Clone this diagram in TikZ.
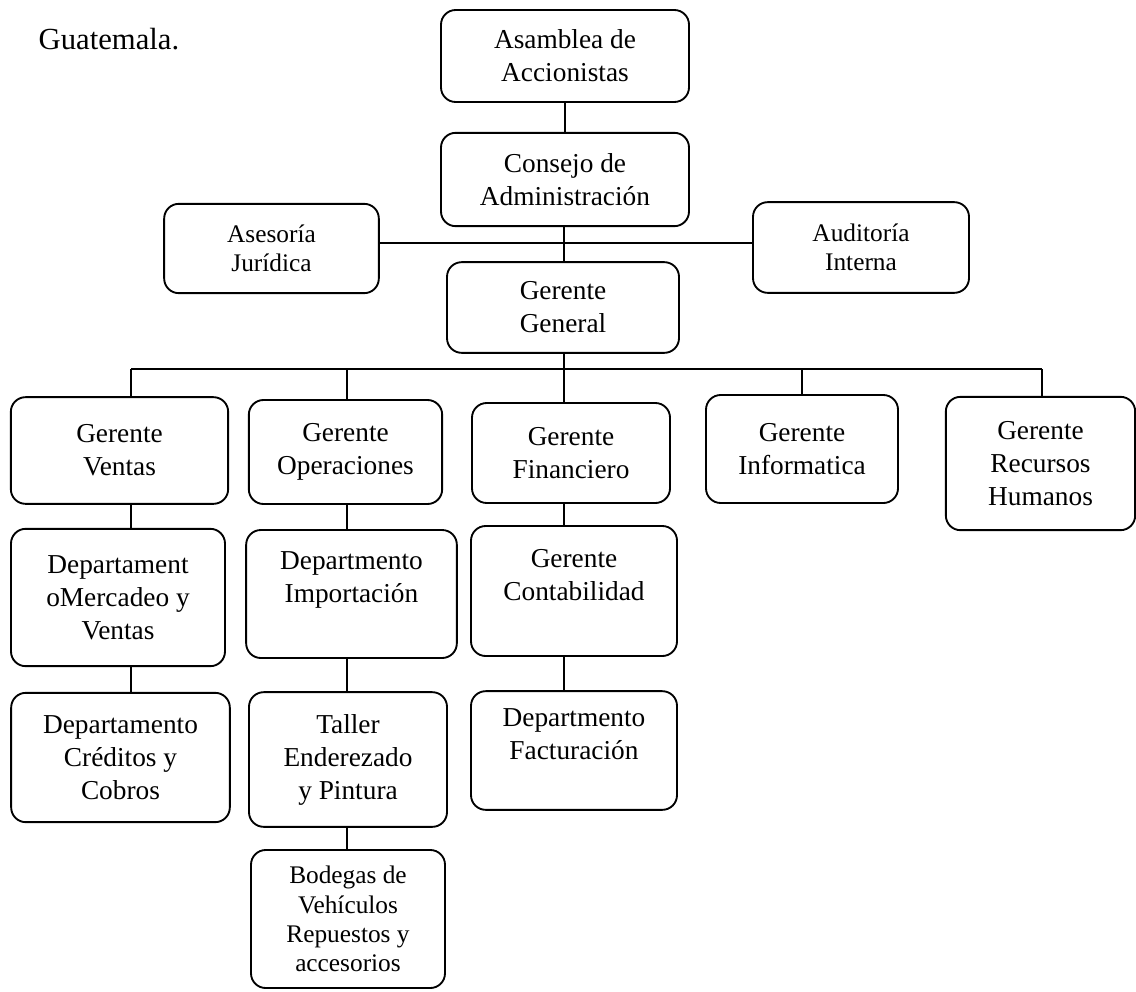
\documentclass[tikz,border=0pt]{standalone}
\usepackage{fontspec}
\setmainfont{Liberation Serif}

\tikzset{
	cargo/.style={draw, line width=1.4pt, rounded corners=11pt, align=center, inner sep=2pt, font=\fontsize{20.5}{24.75}\selectfont},
	cargochico/.style={cargo, font=\fontsize{19}{22}\selectfont},
	linea/.style={line width=1.4pt}
}

\begin{document}
\begin{tikzpicture}[x=0.75pt, y=-0.75pt]
		\useasboundingbox (0, 0) rectangle (1136, 992);
		
		\node[anchor=base west, font=\fontsize{23}{27}\selectfont] (lugar) at (34, 50) {Guatemala.};
		
		% direccion
		\node[cargo, minimum width=186pt, minimum height=69pt] (asamblea) at (565, 56) {Asamblea de\\Accionistas};
		\node[cargo, minimum width=186pt, minimum height=70pt] (consejo) at (565, 179.5) {Consejo de\\Administración};
		\node[cargochico, minimum width=161pt, minimum height=67pt] (asesoria) at (271.5, 248.5) {Asesoría\\Jurídica};
		\node[cargochico, minimum width=162pt, minimum height=68pt] (auditoria) at (861, 247.5) {Auditoría\\Interna};
		\node[cargo, minimum width=174pt, minimum height=68pt] (general) at (563, 307.5) {Gerente\\General};
		
		% gerencias
		\node[cargo, minimum width=163pt, minimum height=80pt] (ventas) at (119.5, 450.5) {Gerente\\Ventas};
		\node[cargo, minimum width=145pt, minimum height=78pt] (operaciones) at (345.5, 452) {Gerente\\Operaciones};
		\node[cargo, minimum width=148.5pt, minimum height=75pt] (financiero) at (571, 453) {Gerente\\Financiero};
		\node[cargo, minimum width=144pt, minimum height=81pt] (informatica) at (802, 449) {Gerente\\Informatica};
		\node[cargo, minimum width=142pt, minimum height=100pt] (rrhh) at (1040.5, 463.5) {Gerente\\Recursos\\Humanos};
		
		% departamentos
		\node[cargo, minimum width=160.5pt, minimum height=103pt] (mercadeo) at (118, 597.5) {Departament\\oMercadeo y\\Ventas};
		\node[cargo, minimum width=158pt, minimum height=96pt] (importacion) at (351.5, 594) {Departmento\\Importación\\\mbox{}};
		\node[cargo, minimum width=154.5pt, minimum height=97.5pt] (contabilidad) at (574, 591) {Gerente\\Contabilidad\\\mbox{}};
		\node[cargo, minimum width=164pt, minimum height=97pt] (creditos) at (120.5, 757.5) {Departamento\\Créditos y\\Cobros};
		\node[cargo, minimum width=148.5pt, minimum height=101pt] (taller) at (348, 759.5) {Taller\\Enderezado\\y Pintura};
		\node[cargo, minimum width=154.5pt, minimum height=89pt] (facturacion) at (574, 750.5) {Departmento\\Facturación\\\mbox{}};
		\node[cargochico, minimum width=145.5pt, minimum height=103.5pt] (bodegas) at (348, 919) {Bodegas de\\Vehículos\\Repuestos y\\accesorios};
		
		% puntos de las lineas
		\coordinate (staff) at (564, 243);
		\coordinate (busL) at (131, 369);
		\coordinate (busR) at (1042, 369);
		\coordinate (colB) at (347, 369);
		\coordinate (colC) at (564, 369);
		
		\draw[linea] (asamblea) -- (consejo);
		\draw[linea] (consejo.south -| colC) -- (general.north -| colC);
		\draw[linea] (asesoria.east |- staff) -- (auditoria.west |- staff);
		\draw[linea] (general.south -| colC) -- (financiero.north -| colC);
		\draw[linea] (busL) -- (busR);
		
		\draw[linea] (busL) -- (ventas.north -| busL);
		\draw[linea] (colB) -- (operaciones.north -| colB);
		\draw[linea] (informatica) -- (informatica |- busL);
		\draw[linea] (busR) -- (rrhh.north -| busR);
		
		\draw[linea] (ventas.south -| busL) -- (mercadeo.north -| busL);
		\draw[linea] (mercadeo.south -| busL) -- (creditos.north -| busL);
		\draw[linea] (operaciones.south -| colB) -- (importacion.north -| colB);
		\draw[linea] (importacion.south -| colB) -- (taller.north -| colB);
		\draw[linea] (taller.south -| colB) -- (bodegas.north -| colB);
		\draw[linea] (financiero.south -| colC) -- (contabilidad.north -| colC);
		\draw[linea] (contabilidad.south -| colC) -- (facturacion.north -| colC);
	\end{tikzpicture}
\end{document}
